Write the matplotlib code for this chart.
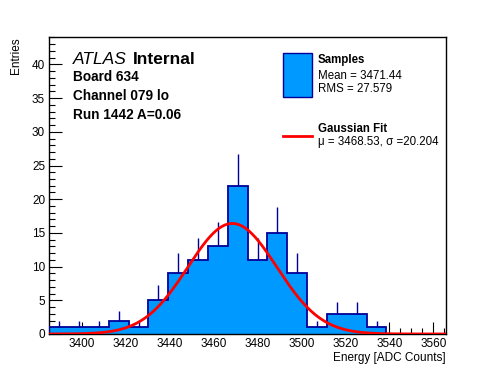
import numpy as np
import matplotlib
matplotlib.use("Agg")
import matplotlib.pyplot as plt
from matplotlib.patches import Rectangle
from matplotlib.lines import Line2D
from matplotlib.ticker import MultipleLocator

plt.rcParams["font.family"] = ["Liberation Sans", "DejaVu Sans"]

# histogram: 20 bins spanning the axis range
x_lo, x_hi = 3385.2, 3565.8
counts = [1, 1, 1, 2, 1, 5, 9, 11, 13, 22, 11, 15, 9, 1, 3, 3, 1, 0, 0, 0]

# gaussian fit parameters
fit_mu = 3468.53
fit_sigma = 20.204
fit_amp = 16.4

hist_mean = 3471.44
hist_rms = 27.579

label_lines = ["Board 634", "Channel 079 lo", "Run 1442 A=0.06"]

fill_col = "#0099ff"
edge_col = "#000099"

counts = np.array(counts, dtype=float)
edges = np.linspace(x_lo, x_hi, len(counts) + 1)
centers = 0.5 * (edges[:-1] + edges[1:])

fig = plt.figure(figsize=(4.96, 3.72), dpi=100)
ax = fig.add_axes([0.0994, 0.1022, 0.7998, 0.797])

# error bars first so the fill hides the lower half
nz = counts > 0
ax.vlines(centers[nz], counts[nz] - np.sqrt(counts[nz]), counts[nz] + np.sqrt(counts[nz]),
          color=edge_col, lw=1.0, zorder=1)
ax.stairs(counts, edges, fill=True, facecolor=fill_col, edgecolor="none", zorder=2)
ax.stairs(counts, edges, color=edge_col, lw=1.3, zorder=3)

xs = np.linspace(x_lo, x_hi, 400)
ax.plot(xs, fit_amp * np.exp(-0.5 * ((xs - fit_mu) / fit_sigma) ** 2), color="red", lw=2.0, zorder=4)

ax.set_xlim(x_lo, x_hi)
ax.set_ylim(0, 44)
ax.xaxis.set_major_locator(MultipleLocator(20))
ax.xaxis.set_minor_locator(MultipleLocator(5))
ax.yaxis.set_major_locator(MultipleLocator(5))
ax.yaxis.set_minor_locator(MultipleLocator(1))
ax.tick_params(which="both", direction="in", top=False, right=False, labelsize=8.5, width=0.8)
ax.tick_params(which="major", length=9, pad=3)
ax.tick_params(which="minor", length=4.5)
for s in ax.spines.values():
    s.set_linewidth(1.0)

ax.set_xlabel("Energy [ADC Counts]", fontsize=8.5, loc="right", labelpad=1)
ax.set_ylabel("Entries", fontsize=8.5, loc="top", labelpad=7)

# ATLAS label block
ax.text(0.059, 0.925, "ATLAS", style="italic", fontsize=12.5, transform=ax.transAxes, va="center")
ax.text(0.211, 0.925, "Internal", weight="bold", fontsize=12.5, transform=ax.transAxes, va="center")
for i, line in enumerate(label_lines):
    ax.text(0.059, 0.866 - i * 0.063, line, weight="bold", fontsize=9.8,
            transform=ax.transAxes, va="center")

# legend drawn by hand (ROOT style)
ax.add_patch(Rectangle((0.589, 0.799), 0.073, 0.149, transform=ax.transAxes,
                       facecolor=fill_col, edgecolor=edge_col, lw=1.0, zorder=5))
ax.add_line(Line2D([0.589, 0.662], [0.667, 0.667], transform=ax.transAxes, color="red", lw=2.0))
tx = 0.677
ax.text(tx, 0.923, "Samples", weight="bold", fontsize=8.3, transform=ax.transAxes, va="center")
ax.text(tx, 0.870, f"Mean = {hist_mean:.2f}", fontsize=8.3, transform=ax.transAxes, va="center")
ax.text(tx, 0.826, f"RMS = {hist_rms:.3f}", fontsize=8.3, transform=ax.transAxes, va="center")
ax.text(tx, 0.690, "Gaussian Fit", weight="bold", fontsize=8.3, transform=ax.transAxes, va="center")
ax.text(tx, 0.648, f"\u03bc = {fit_mu:.2f}, \u03c3 ={fit_sigma:.3f}", fontsize=8.3,
        transform=ax.transAxes, va="center")

fig.savefig("out.png", dpi=100)
